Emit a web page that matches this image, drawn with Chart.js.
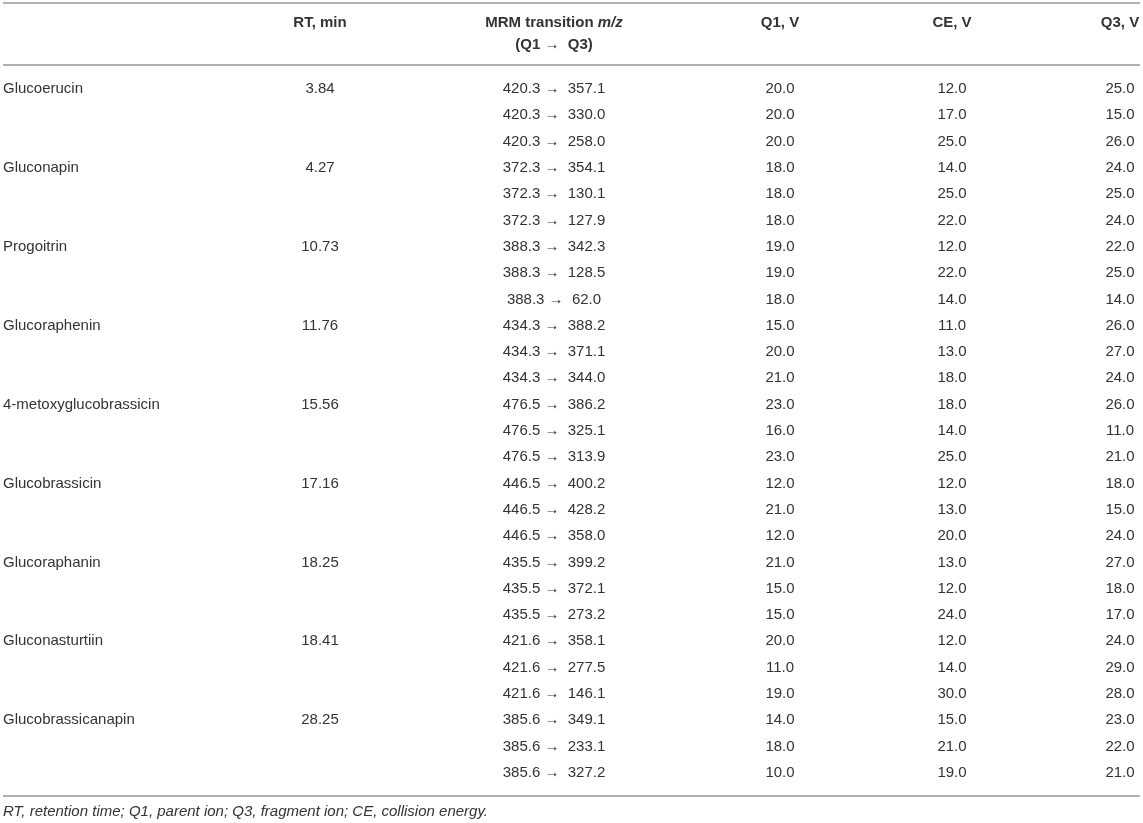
<!DOCTYPE html>
<html>
<head>
<meta charset="utf-8">
<script src="https://cdn.jsdelivr.net/npm/chart.js@4"></script>
<style>
  html, body { margin: 0; padding: 0; background: #ffffff; }
  #wrap { width: 1143px; height: 823px; position: relative; }
</style>
</head>
<body>
<div id="wrap"><canvas id="c"></canvas></div>
<script>
// ---------------- DATA ----------------
const compounds = ["Glucoerucin", "Gluconapin", "Progoitrin", "Glucoraphenin",
  "4-metoxyglucobrassicin", "Glucobrassicin", "Glucoraphanin", "Gluconasturtiin", "Glucobrassicanapin"];
const rtMin = [3.84, 4.27, 10.73, 11.76, 15.56, 17.16, 18.25, 18.41, 28.25];
const precursorMz = [420.3, 420.3, 420.3, 372.3, 372.3, 372.3, 388.3, 388.3, 388.3,
  434.3, 434.3, 434.3, 476.5, 476.5, 476.5, 446.5, 446.5, 446.5,
  435.5, 435.5, 435.5, 421.6, 421.6, 421.6, 385.6, 385.6, 385.6];
const productMz = [357.1, 330.0, 258.0, 354.1, 130.1, 127.9, 342.3, 128.5, 62.0,
  388.2, 371.1, 344.0, 386.2, 325.1, 313.9, 400.2, 428.2, 358.0,
  399.2, 372.1, 273.2, 358.1, 277.5, 146.1, 349.1, 233.1, 327.2];
const q1V = [20, 20, 20, 18, 18, 18, 19, 19, 18, 15, 20, 21, 23, 16, 23, 12, 21, 12,
  21, 15, 15, 20, 11, 19, 14, 18, 10];
const ceV = [12, 17, 25, 14, 25, 22, 12, 22, 14, 11, 13, 18, 18, 14, 25, 12, 13, 20,
  13, 12, 24, 12, 14, 30, 15, 21, 19];
const q3V = [25, 15, 26, 24, 25, 24, 22, 25, 14, 26, 27, 24, 26, 11, 21, 18, 15, 24,
  27, 18, 17, 24, 29, 28, 23, 22, 21];
const transitionsPerCompound = 3;
const headers = ["RT, min", "MRM transition", "Q1, V", "CE, V", "Q3, V"];
const footnote = "RT, retention time; Q1, parent ion; Q3, fragment ion; CE, collision energy.";

// ---------------- LAYOUT ----------------
const W = 1143, H = 823;
const ROW_TOP = 89, ROW_STEP = 26.3;
const yMin = -ROW_TOP / ROW_STEP;
const yMax = yMin + H / ROW_STEP;
const COL = { name: 3, rt: 320, mrm: 554, q1: 780, ce: 952, q3: 1120 };
const HEAD1 = -2.51, HEAD2 = -1.67, TOPLINE = -3.27, HEADLINE = -0.91, BOTLINE = 26.88, FOOT = 27.5;
const TEXT = '#333333';
const RULE = '#b0b0b0';
const FONT = '"Liberation Sans", Arial, Helvetica, sans-serif';

const nRows = precursorMz.length;
const rowIdx = Array.from({ length: nRows }, (_, i) => i);
const compoundRows = compounds.map((_, i) => i * transitionsPerCompound);

function ds(label, x, rows, texts, align) {
  return {
    label,
    data: rows.map(r => ({ x: x, y: r })),
    texts,
    align,
    pointRadius: 0,
    pointHoverRadius: 0,
    showLine: false
  };
}

const datasets = [
  ds('name', COL.name, compoundRows, compounds, 'left'),
  ds('rt', COL.rt, compoundRows, rtMin.map(v => v.toFixed(2)), 'center'),
  ds('mrm', COL.mrm, rowIdx, rowIdx.map(i => precursorMz[i].toFixed(1) + ' \u2192  ' + productMz[i].toFixed(1)), 'center'),
  ds('q1', COL.q1, rowIdx, q1V.map(v => v.toFixed(1)), 'center'),
  ds('ce', COL.ce, rowIdx, ceV.map(v => v.toFixed(1)), 'center'),
  ds('q3', COL.q3, rowIdx, q3V.map(v => v.toFixed(1)), 'center')
];

const tablePlugin = {
  id: 'tablePlugin',
  afterDatasetsDraw(chart) {
    const ctx = chart.ctx;
    const xs = chart.scales.x, ys = chart.scales.y;
    ctx.save();
    // rules
    ctx.strokeStyle = RULE;
    ctx.lineWidth = 2;
    [TOPLINE, HEADLINE, BOTLINE].forEach(v => {
      const y = Math.round(ys.getPixelForValue(v));
      ctx.beginPath();
      ctx.moveTo(xs.getPixelForValue(3), y);
      ctx.lineTo(xs.getPixelForValue(1140), y);
      ctx.stroke();
    });
    // cell texts
    ctx.fillStyle = TEXT;
    ctx.textBaseline = 'middle';
    ctx.font = '15px ' + FONT;
    chart.data.datasets.forEach((d, di) => {
      const meta = chart.getDatasetMeta(di);
      ctx.textAlign = d.align;
      meta.data.forEach((el, j) => {
        ctx.fillText(d.texts[j], el.x, el.y);
      });
    });
    // headers
    const bold = 'bold 15px ' + FONT;
    const boldIt = 'italic bold 15px ' + FONT;
    ctx.font = bold;
    ctx.textAlign = 'center';
    const h1 = ys.getPixelForValue(HEAD1), h2 = ys.getPixelForValue(HEAD2);
    ctx.fillText(headers[0], xs.getPixelForValue(COL.rt), h1);
    ctx.fillText(headers[2], xs.getPixelForValue(COL.q1), h1);
    ctx.fillText(headers[3], xs.getPixelForValue(COL.ce), h1);
    ctx.fillText(headers[4], xs.getPixelForValue(COL.q3), h1);
    // MRM transition m/z (mixed style)
    const partA = headers[1] + ' ';
    const partB = 'm/z';
    ctx.font = bold; const wA = ctx.measureText(partA).width;
    ctx.font = boldIt; const wB = ctx.measureText(partB).width;
    const start = xs.getPixelForValue(COL.mrm) - (wA + wB) / 2;
    ctx.textAlign = 'left';
    ctx.font = bold; ctx.fillText(partA, start, h1);
    ctx.font = boldIt; ctx.fillText(partB, start + wA, h1);
    ctx.font = bold;
    ctx.textAlign = 'center';
    ctx.fillText('(Q1 \u2192  Q3)', xs.getPixelForValue(COL.mrm), h2);
    // footnote
    ctx.font = 'italic 15px ' + FONT;
    ctx.textAlign = 'left';
    ctx.fillText(footnote, xs.getPixelForValue(COL.name), ys.getPixelForValue(FOOT));
    ctx.restore();
  }
};

new Chart(document.getElementById('c'), {
  type: 'scatter',
  data: { datasets },
  options: {
    responsive: true,
    maintainAspectRatio: false,
    animation: false,
    layout: { padding: 0 },
    events: [],
    plugins: { legend: { display: false }, tooltip: { enabled: false } },
    scales: {
      x: { type: 'linear', min: 0, max: W, display: false },
      y: { type: 'linear', min: yMin, max: yMax, reverse: true, display: false }
    }
  },
  plugins: [tablePlugin]
});
</script>
</body>
</html>
